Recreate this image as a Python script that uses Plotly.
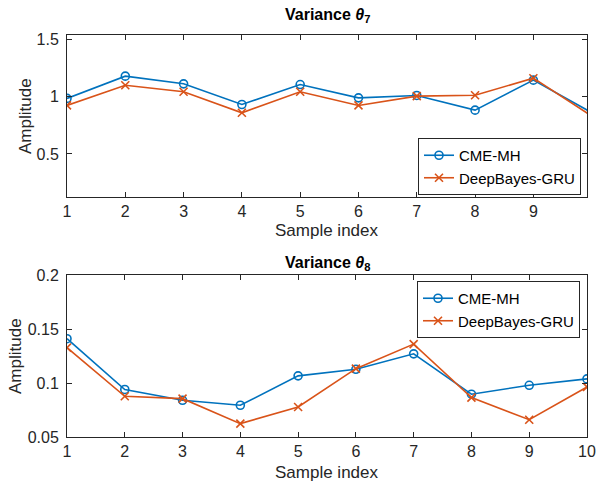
import plotly.graph_objects as go

sample_index = [1, 2, 3, 4, 5, 6, 7, 8, 9, 10]
theta7_cme = [0.983, 1.177, 1.11, 0.93, 1.104, 0.988, 1.009, 0.881, 1.142, 0.86]
theta7_deep = [0.922, 1.098, 1.041, 0.858, 1.041, 0.922, 1.003, 1.011, 1.159, 0.83]
theta8_cme = [0.141, 0.094, 0.084, 0.0794, 0.1066, 0.1127, 0.127, 0.0896, 0.0979, 0.1038]
theta8_deep = [0.1328, 0.0877, 0.0855, 0.0624, 0.0778, 0.1133, 0.136, 0.0865, 0.066, 0.0963]
series_names = ["CME-MH", "DeepBayes-GRU"]
top_xticks = [1, 2, 3, 4, 5, 6, 7, 8, 9]
bot_xticks = [1, 2, 3, 4, 5, 6, 7, 8, 9, 10]
top_yticks = [0.5, 1, 1.5]
bot_yticks = [0.05, 0.1, 0.15, 0.2]

BLUE = "#0072BD"
ORANGE = "#D95319"
AX = "#262626"
FONT = "Liberation Sans, Arial, Helvetica, sans-serif"
W, H = 597, 485

fig = go.Figure()

def add_pair(cme, deep, xa, ya, legend):
    fig.add_trace(go.Scatter(x=sample_index, y=cme, mode="lines+markers", name=series_names[0],
                             line=dict(color=BLUE, width=1.6),
                             marker=dict(symbol="circle-open", size=8, color=BLUE, line=dict(width=1.6)),
                             xaxis=xa, yaxis=ya, legend=legend))
    fig.add_trace(go.Scatter(x=sample_index, y=deep, mode="lines+markers", name=series_names[1],
                             line=dict(color=ORANGE, width=1.6),
                             marker=dict(symbol="x-thin-open", size=8, color=ORANGE, line=dict(width=1.6, color=ORANGE)),
                             xaxis=xa, yaxis=ya, legend=legend))

add_pair(theta7_cme, theta7_deep, "x", "y", "legend")
add_pair(theta8_cme, theta8_deep, "x2", "y2", "legend2")

xl, xr = 67 / W, 587 / W
top_dom = [1 - 197 / H, 1 - 35 / H]
bot_dom = [1 - 437 / H, 1 - 275 / H]

axis_common = dict(showline=True, mirror="ticks", linecolor=AX, linewidth=1,
                   ticks="inside", ticklen=5, tickcolor=AX, tickwidth=1,
                   showgrid=False, zeroline=False, automargin=False,
                   tickfont=dict(family=FONT, size=16, color=AX))

legend_common = dict(xanchor="left", yanchor="top", bgcolor="white", bordercolor=AX, borderwidth=1,
                     font=dict(family=FONT, size=15, color="black"), itemwidth=30, tracegroupgap=0)

fig.update_layout(
    template="none",
    width=W, height=H, margin=dict(l=0, r=0, t=0, b=0, pad=0, autoexpand=False),
    paper_bgcolor="white", plot_bgcolor="white",
    showlegend=True,
    xaxis=dict(domain=[xl, xr], anchor="y", range=[1, 9.92], tickvals=top_xticks, **axis_common),
    yaxis=dict(domain=top_dom, anchor="x", range=[0.125, 1.535], tickvals=top_yticks,
               ticktext=["0.5", "1", "1.5"], ticklabelstandoff=4, **axis_common),
    xaxis2=dict(domain=[xl, xr], anchor="y2", range=[1, 10], tickvals=bot_xticks, **axis_common),
    yaxis2=dict(domain=bot_dom, anchor="x2", range=[0.05, 0.2], tickvals=bot_yticks,
                ticktext=["0.05", "0.1", "0.15", "0.2"], ticklabelstandoff=4, **axis_common),
    legend=dict(x=418 / W, y=1 - 138 / H, **legend_common),
    legend2=dict(x=417 / W, y=1 - 281 / H, **legend_common),
)

def title_ann(text, y_px):
    fig.add_annotation(text=text, x=(67 + 587) / 2 / W, y=1 - y_px / H, xref="paper", yref="paper",
                       showarrow=False, xanchor="center", yanchor="middle",
                       font=dict(family=FONT, size=16, color="black"))

title_ann("<b>Variance <i>θ</i><sub>7</sub></b>", 15)
title_ann("<b>Variance <i>θ</i><sub>8</sub></b>", 263)

for xpx, ypx in ((25, 116), (15, 356)):
    fig.add_annotation(text="Amplitude", x=xpx / W, y=1 - ypx / H, xref="paper", yref="paper",
                       showarrow=False, textangle=-90, xanchor="center", yanchor="middle",
                       font=dict(family=FONT, size=17, color=AX))
for ypx in (230, 472):
    fig.add_annotation(text="Sample index", x=(67 + 587) / 2 / W, y=1 - ypx / H, xref="paper", yref="paper",
                       showarrow=False, xanchor="center", yanchor="middle",
                       font=dict(family=FONT, size=17, color=AX))

fig.write_html("out.html")
